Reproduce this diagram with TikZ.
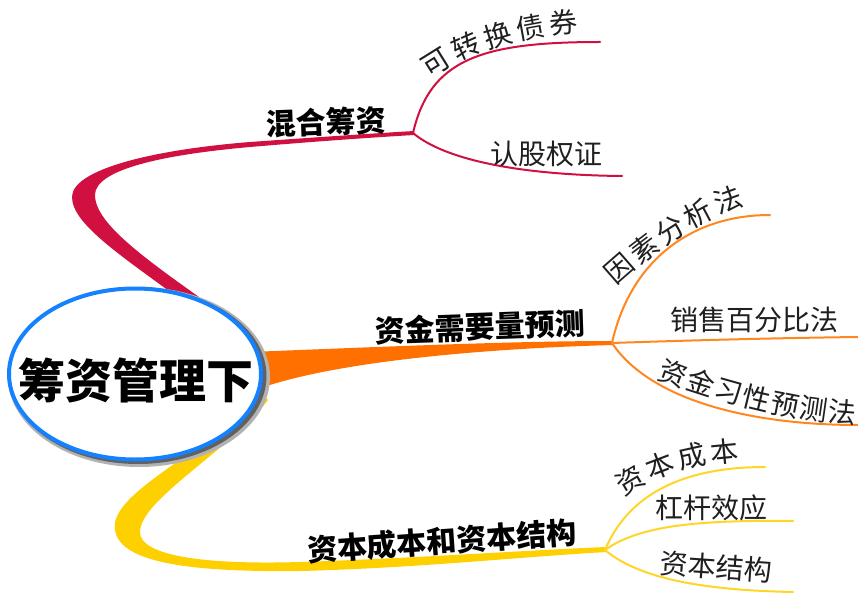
\documentclass[tikz,border=0pt]{standalone}
\usepackage{fontspec}
\setmainfont{Noto Sans CJK SC}
\usetikzlibrary{shapes.geometric,decorations.text}
\definecolor{crim}{RGB}{208,16,64}
\definecolor{orng}{RGB}{255,112,0}
\definecolor{orng2}{RGB}{255,135,30}
\definecolor{ylw}{RGB}{255,208,0}
\definecolor{ylw2}{RGB}{255,214,40}
\definecolor{rootblue}{RGB}{20,130,255}
\tikzset{
  mainlbl/.style={font=\fontsize{30}{30}\selectfont\bfseries, inner sep=0pt, text=black},
  sublbl/.style={font=\fontsize{28}{28}\selectfont, inner sep=0pt, text=black!88},
  subline/.style={line width=2pt, line cap=round},
  curvtxt/.style={decorate, decoration={text along path, text align={fit to path},
      text={|\fontsize{28}{28}\selectfont\color{black!88}|#1}}},
}
\begin{document}
\begin{tikzpicture}[x=1pt,y=-1pt]
\useasboundingbox (0,0) rectangle (858,593);
% forks and free ends
\coordinate (cfork) at (413,133);
\coordinate (ofork) at (612,343);
\coordinate (yfork) at (605,550);
\coordinate (c1) at (600,42);
\coordinate (c2) at (622,176);
\coordinate (o1) at (770,215);
\coordinate (o2) at (858,337);
\coordinate (o3) at (858,425);
\coordinate (y1) at (765,467);
\coordinate (y2) at (793,521);
\coordinate (y3) at (793,592);
% main tapered branches
\fill[ylw] (235,420) .. controls (170,470) and (110,500) .. (115,530)
  .. controls (120,565) and (200,572) .. (300,571)
  .. controls (420,568) and (530,556) .. (607,552)
  -- (607,547) .. controls (530,550) and (420,558) .. (300,562)
  .. controls (200,565) and (140,555) .. (140,532)
  .. controls (140,500) and (230,450) .. (268,400) -- (255,385) -- cycle;
\fill[crim] (188,305) .. controls (125,258) and (72,225) .. (72,197)
  .. controls (72,170) and (150,150) .. (250,142)
  .. controls (320,137) and (380,133) .. (414,131)
  -- (414,135) .. controls (380,137) and (320,141) .. (250,147)
  .. controls (160,155) and (95,170) .. (95,195)
  .. controls (95,225) and (150,262) .. (220,312) -- cycle;
\fill[orng] (250,352) .. controls (400,346) and (520,341) .. (613,341)
  -- (613,345) .. controls (500,348) and (330,360) .. (250,392) -- cycle;
% sub branches
\draw[subline, crim] (cfork) .. controls (430,60) and (480,42) .. (c1);
\draw[subline, crim] (cfork) .. controls (445,160) and (520,175) .. (c2);
\draw[subline, orng2] (ofork) .. controls (630,262) and (690,215) .. (o1);
\draw[subline, orng2] (ofork) .. controls (700,340) and (780,338) .. (o2);
\draw[subline, orng2] (ofork) .. controls (650,400) and (750,425) .. (o3);
\draw[subline, ylw2] (yfork) .. controls (630,490) and (690,467) .. (y1);
\draw[subline, ylw2] (yfork) .. controls (640,525) and (700,520) .. (y2);
\draw[subline, ylw2] (yfork) .. controls (635,575) and (690,590) .. (y3);
% root
\node[ellipse, fill=black!30, minimum width=262pt, minimum height=180pt, inner sep=0pt] (rootshadowa) at (139,377) {};
\node[ellipse, fill=black!62, minimum width=257pt, minimum height=176pt, inner sep=0pt] (rootshadowb) at (138,376) {};
\node[ellipse, draw=rootblue, line width=4pt, fill=white, minimum width=252pt, minimum height=171pt, inner sep=0pt] (root) at (135,374) {};
\node[font=\fontsize{47}{47}\selectfont\bfseries, inner sep=0pt] (roottxt) at (136,380) {筹资管理下};
% main labels
\node[mainlbl, rotate=2] (lmix) at (326,122) {混合筹资};
\node[mainlbl, rotate=2] (lfund) at (480,327) {资金需要量预测};
\node[mainlbl, rotate=4] (lcap) at (442,541) {资本成本和资本结构};
% sub labels
\path[curvtxt={可转换债券}] (430,79) .. controls (468,52) and (515,36) .. (578,32);
\node[sublbl] (lwar) at (546,154) {认股权证};
\path[curvtxt={因素分析法}] (616,286) .. controls (651,253) and (705,216) .. (745,206);
\node[sublbl] (lsales) at (754,320) {销售百分比法};
\path[curvtxt={资金习性预测法}] (657,378) .. controls (700,395) and (780,420) .. (855,424);
\path[curvtxt={资本成本}] (624,497) .. controls (650,478) and (690,463) .. (739,461);
\node[sublbl] (llev) at (711,508) {杠杆效应};
\node[sublbl, rotate=-4] (lstr) at (716,567) {资本结构};
\end{tikzpicture}
\end{document}
